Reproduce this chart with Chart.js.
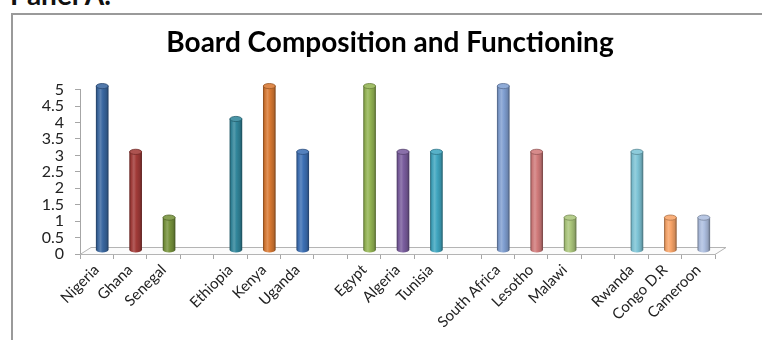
<!DOCTYPE html>
<html>
<head>
<meta charset="utf-8">
<script src="https://cdn.jsdelivr.net/npm/chart.js@4/dist/chart.umd.min.js"></script>
<style>
  html, body { margin: 0; padding: 0; background: #fff; overflow: hidden; }
  body { width: 762px; height: 340px; position: relative; }
  #panel { position: absolute; left: 10px; top: -20px; font: bold 28px Lato, sans-serif; line-height: 28px; color: #111; white-space: nowrap; }
  #frame { position: absolute; left: 11px; top: 13px; width: 800px; height: 400px; border-left: 2px solid #9a9a9a; border-top: 2px solid #9a9a9a; }
  #wrap { position: absolute; left: 0; top: 0; width: 762px; height: 340px; }
</style>
</head>
<body>
<div id="panel">Panel A:</div>
<div id="frame"></div>
<div id="wrap"><canvas id="chart" width="762" height="340"></canvas></div>
<script>
// Countries grouped by region; empty labels are the spacers between groups
const categories = ['Nigeria', 'Ghana', 'Senegal', '',
                    'Ethiopia', 'Kenya', 'Uganda', '',
                    'Egypt', 'Algeria', 'Tunisia', '',
                    'South Africa', 'Lesotho', 'Malawi', '',
                    'Rwanda', 'Congo D.R', 'Cameroon'];
const scores = [5, 3, 1, null,
                4, 5, 3, null,
                5, 3, 3, null,
                5, 3, 1, null,
                3, 1, 1];
const barColours = ['#3A67A0', '#A23B38', '#77933C', null,
                    '#31869B', '#D97932', '#3D70B5', null,
                    '#94B553', '#7A5D9E', '#40A6C0', null,
                    '#809FD1', '#D17B7B', '#ABC67B', null,
                    '#7EC4D6', '#F8A468', '#AEBFE0'];
const yTickValues = [0, 0.5, 1, 1.5, 2, 2.5, 3, 3.5, 4, 4.5, 5];
const yTickLabels = ['0', '0.5', '1', '1.5', '2', '2.5', '3', '3.5', '4', '4.5', '5'];

const BAR_W = 12;                  // cylinder diameter
const DEPTH = { x: 11, y: -7 };    // floor depth offset
const MID = { x: DEPTH.x / 2, y: DEPTH.y / 2 };

function shade(hex, amt) {
  const n = parseInt(hex.slice(1), 16);
  const r = (n >> 16) & 255, g = (n >> 8) & 255, b = n & 255;
  const f = c => amt >= 0 ? Math.round(c + (255 - c) * amt) : Math.round(c * (1 + amt));
  return `rgb(${f(r)},${f(g)},${f(b)})`;
}

function cylinderGradient(ctx, x, w, c) {
  const g = ctx.createLinearGradient(x - w / 2, 0, x + w / 2, 0);
  g.addColorStop(0, shade(c, -0.35));
  g.addColorStop(0.12, shade(c, -0.05));
  g.addColorStop(0.35, shade(c, 0.18));
  g.addColorStop(0.55, c);
  g.addColorStop(0.85, shade(c, -0.15));
  g.addColorStop(1, shade(c, -0.4));
  return g;
}

// 3D floor under the bars and the depth shift for the cylinders
const floor3d = {
  id: 'floor3d',
  beforeDatasetsDraw(chart) {
    const { ctx, chartArea } = chart;
    const y0 = chart.scales.y.getPixelForValue(0);
    const l = chartArea.left, r = chartArea.right;
    ctx.save();
    ctx.strokeStyle = '#b4b4b4';
    ctx.lineWidth = 1;
    ctx.fillStyle = '#fbfbfb';
    ctx.beginPath();
    ctx.moveTo(l, y0 + 0.5);
    ctx.lineTo(l + DEPTH.x, y0 + DEPTH.y + 0.5);
    ctx.lineTo(r + DEPTH.x, y0 + DEPTH.y + 0.5);
    ctx.lineTo(r, y0 + 0.5);
    ctx.closePath();
    ctx.fill();
    ctx.stroke();
    ctx.restore();
    ctx.save();
    ctx.translate(MID.x, MID.y);
  },
  afterDatasetsDraw(chart) {
    const { ctx } = chart;
    const meta = chart.getDatasetMeta(0);
    meta.data.forEach((bar, i) => {
      const c = barColours[i];
      if (c == null || scores[i] == null) return;
      const { x, y, base, width } = bar.getProps(['x', 'y', 'base', 'width'], true);
      if (![x, y, base, width].every(Number.isFinite)) return;
      const rx = width / 2, ry = 2.6;
      // rounded base
      ctx.beginPath();
      ctx.ellipse(x, base, rx, ry, 0, 0, Math.PI);
      ctx.fillStyle = cylinderGradient(ctx, x, width, c);
      ctx.fill();
      // top cap
      ctx.beginPath();
      ctx.ellipse(x, y, rx, ry, 0, 0, Math.PI * 2);
      ctx.fillStyle = shade(c, 0.12);
      ctx.fill();
      ctx.strokeStyle = shade(c, -0.3);
      ctx.lineWidth = 0.8;
      ctx.stroke();
    });
    ctx.restore();
  }
};

new Chart(document.getElementById('chart'), {
  type: 'bar',
  data: {
    labels: categories,
    datasets: [{
      data: scores,
      barThickness: BAR_W,
      clip: false,
      borderWidth: 0,
      backgroundColor: (ctx) => {
        const c = barColours[ctx.dataIndex] || '#888888';
        const xs = ctx.chart.scales.x;
        if (!xs) return c;
        const x = xs.getPixelForValue(ctx.dataIndex);
        if (!Number.isFinite(x)) return c;
        return cylinderGradient(ctx.chart.ctx, x, BAR_W, c);
      }
    }]
  },
  options: {
    responsive: false,
    animation: false,
    devicePixelRatio: 1,
    layout: { padding: { left: 18, right: 0, top: 0, bottom: 0 } },
    plugins: {
      legend: { display: false },
      tooltip: { enabled: false },
      title: {
        display: true,
        text: 'Board Composition and Functioning',
        color: '#000',
        font: { family: 'Lato', size: 28, weight: 'bold', lineHeight: 1.2 },
        padding: { top: 26, bottom: 30 }
      }
    },
    scales: {
      x: {
        offset: true,
        afterFit: (s) => { s.height = 86; },
        grid: { offset: true, drawOnChartArea: false, tickLength: 5, color: '#a6a6a6' },
        border: { display: true, color: '#b4b4b4' },
        ticks: {
          autoSkip: false, maxRotation: 45, minRotation: 45, padding: 2,
          color: '#222', font: { family: 'Lato', size: 15 }
        }
      },
      y: {
        min: 0, max: 5,
        afterFit: (s) => { s.width = 62; },
        afterBuildTicks: (s) => { s.ticks = yTickValues.map(v => ({ value: v })); },
        grid: { drawOnChartArea: false, tickLength: 5, color: '#a6a6a6' },
        border: { display: true, color: '#a6a6a6' },
        ticks: {
          autoSkip: false,
          padding: 11,
          color: '#222',
          font: { family: 'Lato', size: 16 },
          callback: (v) => yTickLabels[yTickValues.indexOf(v)]
        }
      },
      // blank margin to the right of the floor
      yRight: {
        position: 'right',
        min: 0, max: 5,
        afterFit: (s) => { s.width = 47; },
        grid: { display: false },
        border: { display: false },
        ticks: { display: false }
      }
    }
  },
  plugins: [floor3d]
});
</script>
</body>
</html>
